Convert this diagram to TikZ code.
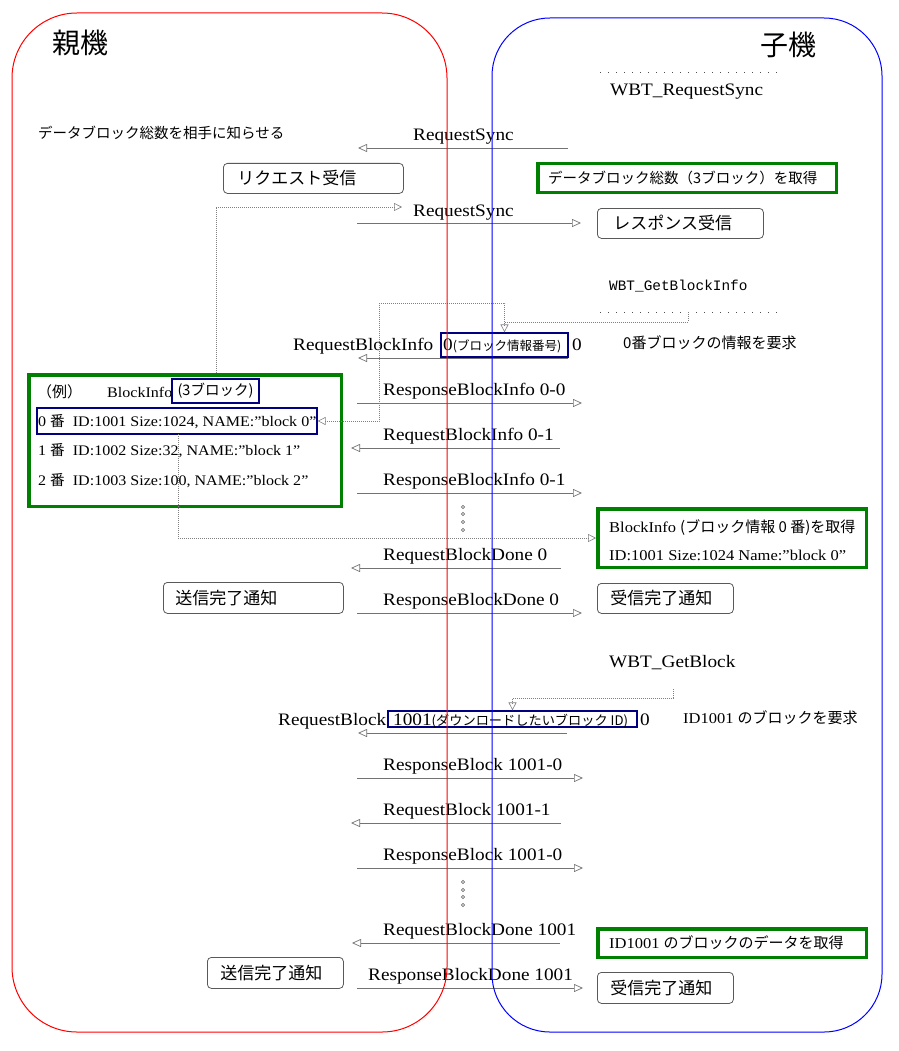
\documentclass[tikz,border=0pt]{standalone}
\usepackage{fontspec}
\setmainfont{Liberation Serif}[FakeStretch=1.1]
\newfontfamily\jp{Noto Sans CJK JP}
\newfontfamily\mono{Liberation Mono}
\usetikzlibrary{arrows.meta}
\newcommand\fsz[1]{\fontsize{#1}{#1}\selectfont}
\newcommand\msgarrow[4]{\coordinate (#1a) at (#2,#4);\coordinate (#1b) at (#3,#4);\draw[msg] (#1a) -- (#1b);}
\begin{document}
\begin{tikzpicture}[x=1pt,y=-1pt,
  msg/.style={draw=black!55, line width=0.7pt, -{Triangle[open,length=9pt,width=8pt]}},
  dotc/.style={draw=black!50, line width=0.6pt, dash pattern=on 1pt off 1pt, -{Triangle[open,length=8pt,width=8pt]}},
  sep/.style={draw=black!70, line width=0.9pt, dash pattern=on 0.9pt off 7.1pt},
  lbl/.style={font=\fsz{17.5}, inner sep=0pt, anchor=base west},
  jtxt/.style={font=\jp\fsz{15}, inner sep=0pt, anchor=west},
  rbox/.style={draw=black!65, line width=0.8pt, rounded corners=4pt, font=\jp\fsz{17}, inner ysep=0pt, align=left, anchor=north west},
  gbox/.style={draw=green!50!black, line width=3.5pt, inner sep=0pt},
  bbox/.style={draw=blue!50!black, line width=1.2pt, inner sep=0pt},
  vdot/.style={draw=black!55, line width=0.6pt},
]
\useasboundingbox (0,0) rectangle (898,1051);
% titles
\node[font=\jp\fsz{28}, inner sep=0pt, anchor=west] (oya) at (52,43) {親機};
\node[font=\jp\fsz{28}, inner sep=0pt, anchor=west] (ko) at (760,45) {子機};
% RequestSync
\coordinate (s1a) at (600,72); \coordinate (s1b) at (778,72); \draw[sep] (s1a) -- (s1b);
\node[lbl] (wrs) at (610,96) {WBT\_RequestSync};
\node[jtxt, font=\jp\fsz{14.5}] (notify) at (38,133) {データブロック総数を相手に知らせる};
\node[lbl] (l1) at (413,141) {RequestSync};
\msgarrow{m1}{568}{358}{148}
\node[rbox, minimum height=30pt, text width=152pt, inner xsep=14pt] (reqRecv) at (223,163) {リクエスト受信};
\node[gbox, minimum width=298.5pt, minimum height=28.5pt] (g1) at (687,178) {};
\node[jtxt, font=\jp\fsz{14.5}] (g1t) at (548,178) {データブロック総数（3ブロック）を取得};
\node[lbl] (l2) at (413,216) {RequestSync};
\msgarrow{m2}{357}{581}{223}
\node[rbox, minimum height=30pt, text width=134pt, inner xsep=16pt] (resRecv) at (597,208) {レスポンス受信};
% GetBlockInfo
\node[lbl, font=\mono\fsz{14.4}] (wgbi) at (609,290) {WBT\_GetBlockInfo};
\coordinate (s2a) at (600,312); \coordinate (s2b) at (778,312); \draw[sep] (s2a) -- (s2b);
\node[lbl] (l3) at (293,350) {RequestBlockInfo};
\node[bbox, minimum width=127pt, minimum height=24pt] (b1) at (504.5,345) {};
\node[lbl] (l3b) at (443,350) {0{\jp\fsz{12.5}(ブロック情報番号)}};
\node[lbl] (l3c) at (572,350) {0};
\msgarrow{m3}{568}{358}{358}
\node[jtxt] (req0) at (623,343) {0番ブロックの情報を要求};
% example box
\node[gbox, minimum width=312.5pt, minimum height=131.5pt] (g2) at (185,440.5) {};
\node[jtxt] (rei) at (37,392) {（例）};
\node[lbl, font=\fsz{14.6}] (bi) at (107,397) {BlockInfo};
\node[bbox, minimum width=87pt, minimum height=24pt] (b2) at (215.5,391) {};
\node[font=\jp\fsz{14.5}, inner sep=0pt] (b2t) at (215.5,391) {(3ブロック)};
\node[bbox, minimum width=280pt, minimum height=26pt] (b3) at (177,421) {};
\node[lbl, font=\fsz{14.6}] (row0) at (38,426) {0 {\jp 番}\ \ ID:1001 Size:1024, NAME:”block 0”};
\node[lbl, font=\fsz{14.6}] (row1) at (38,455) {1 {\jp 番}\ \ ID:1002 Size:32, NAME:”block 1”};
\node[lbl, font=\fsz{14.6}] (row2) at (38,485) {2 {\jp 番}\ \ ID:1003 Size:100, NAME:”block 2”};
% block info messages
\node[lbl] (l4) at (383,395) {ResponseBlockInfo 0-0};
\msgarrow{m4}{357}{582}{403}
\node[lbl] (l5) at (383,440) {RequestBlockInfo 0-1};
\msgarrow{m5}{560}{351}{448}
\node[lbl] (l6) at (383,485) {ResponseBlockInfo 0-1};
\msgarrow{m6}{357}{582}{493}
\foreach \yy in {507,514,522,530} \draw[vdot] (463,\yy) circle (1.6pt);
\node[gbox, minimum width=268.5pt, minimum height=58.5pt] (g3) at (732,538) {};
\node[lbl, font=\fsz{15}] (g3a) at (609,532) {BlockInfo {\jp (ブロック情報 0 番)を取得}};
\node[lbl, font=\fsz{15}] (g3b) at (609,560) {ID:1001 Size:1024 Name:”block 0”};
% dotted connectors
\coordinate (c1s) at (216,373); \coordinate (c1e) at (402,207);
\draw[dotc] (c1s) |- (c1e);
\coordinate (c2s) at (688,312); \coordinate (c2m) at (688,322);
\draw[dotc] (c2s) -- (c2m) -| (b1.north);
\coordinate (c3s) at (504.5,322); \coordinate (c3a) at (504.5,303); \coordinate (c3b) at (379,303);
\draw[dotc] (c3s) -- (c3a) -- (c3b) |- (b3.east);
\coordinate (c4s) at (178,434);
\draw[dotc] (c4s) |- (g3.west);
% block done
\node[lbl] (l7) at (383,560) {RequestBlockDone 0};
\msgarrow{m7}{561}{351}{568}
\node[rbox, minimum height=31pt, text width=156pt, inner xsep=12pt] (sendDone1) at (163,582) {送信完了通知};
\node[lbl] (l8) at (383,605) {ResponseBlockDone 0};
\msgarrow{m8}{357}{582}{613}
\node[rbox, minimum height=30pt, text width=110pt, inner xsep=13pt] (recvDone1) at (597,583) {受信完了通知};
% GetBlock
\node[lbl] (wgb) at (609,667) {WBT\_GetBlock};
\node[bbox, minimum width=249pt, minimum height=16pt] (b4) at (512.5,719) {};
\coordinate (c5s) at (673,689); \coordinate (c5m) at (673,698);
\draw[dotc] (c5s) -- (c5m) -| (b4.north);
\node[lbl] (l9) at (278,725) {RequestBlock};
\node[lbl] (l9b) at (393,725) {1001{\jp\fsz{13.2}(ダウンロードしたいブロック ID)}};
\node[lbl] (l9c) at (640,725) {0};
\msgarrow{m9}{567}{358}{733}
\node[lbl, font=\fsz{15}] (req1001) at (683,723) {ID1001 {\jp のブロックを要求}};
\node[lbl] (l10) at (383,770) {ResponseBlock 1001-0};
\msgarrow{m10}{357}{583}{778}
\node[lbl] (l11) at (383,815) {RequestBlock 1001-1};
\msgarrow{m11}{561}{351}{823}
\node[lbl] (l12) at (383,860) {ResponseBlock 1001-0};
\msgarrow{m12}{357}{583}{868}
\foreach \yy in {882,890,897,905} \draw[vdot] (463,\yy) circle (1.6pt);
\node[lbl] (l13) at (383,935) {RequestBlockDone 1001};
\msgarrow{m13}{560}{352}{943}
\node[gbox, minimum width=268.5pt, minimum height=28.5pt] (g4) at (732,943) {};
\node[lbl, font=\fsz{15}] (g4t) at (609,948) {ID1001 {\jp のブロックのデータを取得}};
\node[rbox, minimum height=31pt, text width=110pt, inner xsep=13pt] (sendDone2) at (207,957) {送信完了通知};
\node[lbl] (l14) at (368,980) {ResponseBlockDone 1001};
\msgarrow{m14}{357}{583}{988}
\node[rbox, minimum height=31pt, text width=110pt, inner xsep=13pt] (recvDone2) at (597,972) {受信完了通知};
% frames
\draw[red, line width=1pt, rounded corners=65pt] (12,13) rectangle (447,1032);
\draw[blue, line width=1pt, rounded corners=58pt] (492,18) rectangle (882,1032);
\end{tikzpicture}
\end{document}
